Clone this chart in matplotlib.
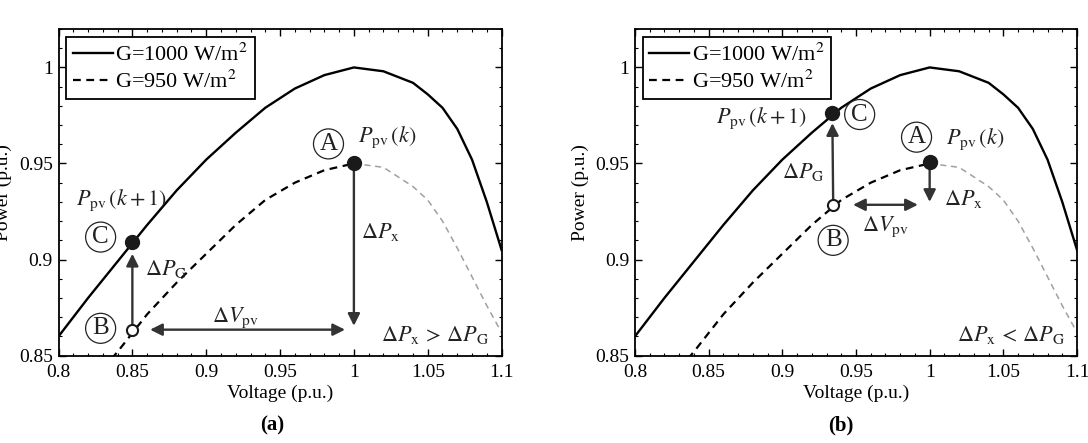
import numpy as np
import matplotlib
matplotlib.use("Agg")
import matplotlib.pyplot as plt
from matplotlib.ticker import AutoMinorLocator

plt.rcParams['font.family'] = ['Liberation Serif', 'DejaVu Serif']
plt.rcParams['mathtext.fontset'] = 'stix'

# P-V curves (p.u.)
v_1000 = [0.80, 0.82, 0.84, 0.86, 0.88, 0.90, 0.92, 0.94, 0.96, 0.98, 1.00,
          1.02, 1.04, 1.05, 1.06, 1.07, 1.08, 1.09, 1.10]
p_1000 = [0.860, 0.880, 0.899, 0.918, 0.936, 0.952, 0.966, 0.979, 0.989, 0.996, 1.000,
          0.998, 0.992, 0.986, 0.979, 0.968, 0.952, 0.930, 0.905]

v_950 = [0.83, 0.84, 0.86, 0.88, 0.90, 0.92, 0.94, 0.96, 0.98, 1.00,
         1.02, 1.04, 1.05, 1.06, 1.07, 1.08, 1.09, 1.10]
p_950 = [0.843, 0.852, 0.8715, 0.888, 0.903, 0.918, 0.931, 0.940, 0.9465, 0.950,
         0.948, 0.938, 0.931, 0.920, 0.906, 0.891, 0.876, 0.862]

legend_labels = ['G=1000 W/m$^2$', 'G=950 W/m$^2$']
x_ticks = [0.8, 0.85, 0.9, 0.95, 1.0, 1.05, 1.1]
x_ticklabels = ['0.8', '0.85', '0.9', '0.95', '1', '1.05', '1.1']
y_ticks = [0.85, 0.9, 0.95, 1.0]
y_ticklabels = ['0.85', '0.9', '0.95', '1']

# operating points (V, P) for each case
pt_a = {'A': (1.0, 0.950), 'B': (0.85, 0.8635), 'C': (0.85, 0.909)}
pt_b = {'A': (1.0, 0.951), 'B': (0.9345, 0.9285), 'C': (0.934, 0.9765)}

TXT = '#222222'
ARR = '#333333'


def base_axes(ax):
    n_peak = v_950.index(1.00)
    ax.plot(v_1000, p_1000, color='black', lw=1.7, label=legend_labels[0], zorder=2)
    ax.plot(v_950[:n_peak + 1], p_950[:n_peak + 1], color='black', lw=1.6,
            dashes=(3.5, 2.5), label=legend_labels[1], zorder=2)
    ax.plot(v_950[n_peak:], p_950[n_peak:], color='#a0a0a0', lw=1.1, dashes=(4, 3), zorder=1)

    ax.set_xlim(0.8, 1.1)
    ax.set_ylim(0.85, 1.02)
    ax.set_xticks(x_ticks)
    ax.set_xticklabels(x_ticklabels)
    ax.set_yticks(y_ticks)
    ax.set_yticklabels(y_ticklabels)
    ax.xaxis.set_minor_locator(AutoMinorLocator(5))
    ax.yaxis.set_minor_locator(AutoMinorLocator(5))
    ax.tick_params(which='both', direction='in', top=True, right=True, labelsize=14)
    ax.tick_params(axis='x', which='major', pad=6)
    ax.tick_params(axis='y', which='major', pad=4)
    ax.tick_params(which='major', length=5, width=1)
    ax.tick_params(which='minor', length=2.5, width=0.8)
    for s in ax.spines.values():
        s.set_linewidth(1.3)
    ax.set_xlabel('Voltage (p.u.)', fontsize=14, labelpad=3)
    ax.set_ylabel('Power (p.u.)', fontsize=14, labelpad=5)

    leg = ax.legend(loc='upper left', fontsize=16, handlelength=1.8, handletextpad=0.1,
                    labelspacing=0.2, borderpad=0.3, borderaxespad=0.35, fancybox=False,
                    framealpha=1, edgecolor='black')
    leg.get_frame().set_linewidth(1.3)


def dot(ax, p, filled=True):
    ax.plot(p[0], p[1], 'o', ms=9.5 if filled else 8, mfc='#1a1a1a' if filled else 'white',
            mec='#1a1a1a', mew=1.5, zorder=5)


def circled(ax, x, y, s):
    ax.text(x, y, s, fontsize=18, color=TXT, ha='center', va='center', zorder=6,
            bbox=dict(boxstyle='circle,pad=0.16', fc='white', ec=TXT, lw=0.9))


def arrow(ax, start, end, both=False):
    ax.annotate('', xy=end, xytext=start, zorder=4,
                arrowprops=dict(arrowstyle='<|-|>' if both else '-|>', color=ARR, lw=1.7,
                                mutation_scale=18, shrinkA=0, shrinkB=0))


fig = plt.figure(figsize=(10.88, 4.43), dpi=100)
ax1 = fig.add_axes([0.0538, 0.1973, 0.4072, 0.7372])
ax2 = fig.add_axes([0.5836, 0.1973, 0.4063, 0.7372])

# (a) large voltage step
base_axes(ax1)
A, B, C = pt_a['A'], pt_a['B'], pt_a['C']
arrow(ax1, (A[0], A[1] - 0.002), (A[0], 0.8655))
arrow(ax1, (B[0], B[1] + 0.003), (C[0], 0.903))
arrow(ax1, (0.862, B[1]), (0.994, B[1]), both=True)
dot(ax1, A)
dot(ax1, C)
dot(ax1, B, filled=False)
circled(ax1, 0.9828, 0.9602, 'A')
circled(ax1, 0.8285, 0.8642, 'B')
circled(ax1, 0.8285, 0.9117, 'C')
ax1.text(1.003, 0.9635, r'$P_{\mathrm{pv}}\,(k)$', fontsize=16, color=TXT, va='center')
ax1.text(0.843, 0.9308, r'$P_{\mathrm{pv}}\,(k+1)$', fontsize=16, color=TXT, ha='center', va='center')
ax1.text(1.005, 0.9143, r'$\Delta P_{\mathrm{x}}$', fontsize=16, color=TXT, va='center')
ax1.text(0.8585, 0.8953, r'$\Delta P_{\mathrm{G}}$', fontsize=16, color=TXT, va='center')
ax1.text(0.92, 0.8695, r'$\Delta V_{\mathrm{pv}}$', fontsize=16, color=TXT, ha='center', va='center')
ax1.text(1.055, 0.8607, r'$\Delta P_{\mathrm{x}}\,>\,\Delta P_{\mathrm{G}}$', fontsize=16, color=TXT,
         ha='center', va='center')

# (b) small voltage step
base_axes(ax2)
A, B, C = pt_b['A'], pt_b['B'], pt_b['C']
arrow(ax2, (A[0], A[1] - 0.002), (A[0], 0.930))
arrow(ax2, (B[0], B[1] + 0.003), (C[0], 0.971))
arrow(ax2, (0.948, B[1]), (0.992, B[1]), both=True)
dot(ax2, A)
dot(ax2, C)
dot(ax2, B, filled=False)
circled(ax2, 0.9911, 0.9637, 'A')
circled(ax2, 0.9345, 0.9100, 'B')
circled(ax2, 0.9525, 0.9755, 'C')
ax2.text(1.011, 0.9628, r'$P_{\mathrm{pv}}\,(k)$', fontsize=16, color=TXT, va='center')
ax2.text(0.917, 0.9735, r'$P_{\mathrm{pv}}\,(k+1)$', fontsize=16, color=TXT, ha='right', va='center')
ax2.text(1.010, 0.9317, r'$\Delta P_{\mathrm{x}}$', fontsize=16, color=TXT, va='center')
ax2.text(0.929, 0.9455, r'$\Delta P_{\mathrm{G}}$', fontsize=16, color=TXT, ha='right', va='center')
ax2.text(0.970, 0.917, r'$\Delta V_{\mathrm{pv}}$', fontsize=16, color=TXT, ha='center', va='center')
ax2.text(1.055, 0.8607, r'$\Delta P_{\mathrm{x}}\,<\,\Delta P_{\mathrm{G}}$', fontsize=16, color=TXT,
         ha='center', va='center')

fig.text(272 / 1088, 1 - 425 / 443, '(a)', fontsize=15, fontweight='bold', ha='center', va='center')
fig.text(841 / 1088, 1 - 425 / 443, '(b)', fontsize=15, fontweight='bold', ha='center', va='center')

fig.savefig('out.png', dpi=100)
